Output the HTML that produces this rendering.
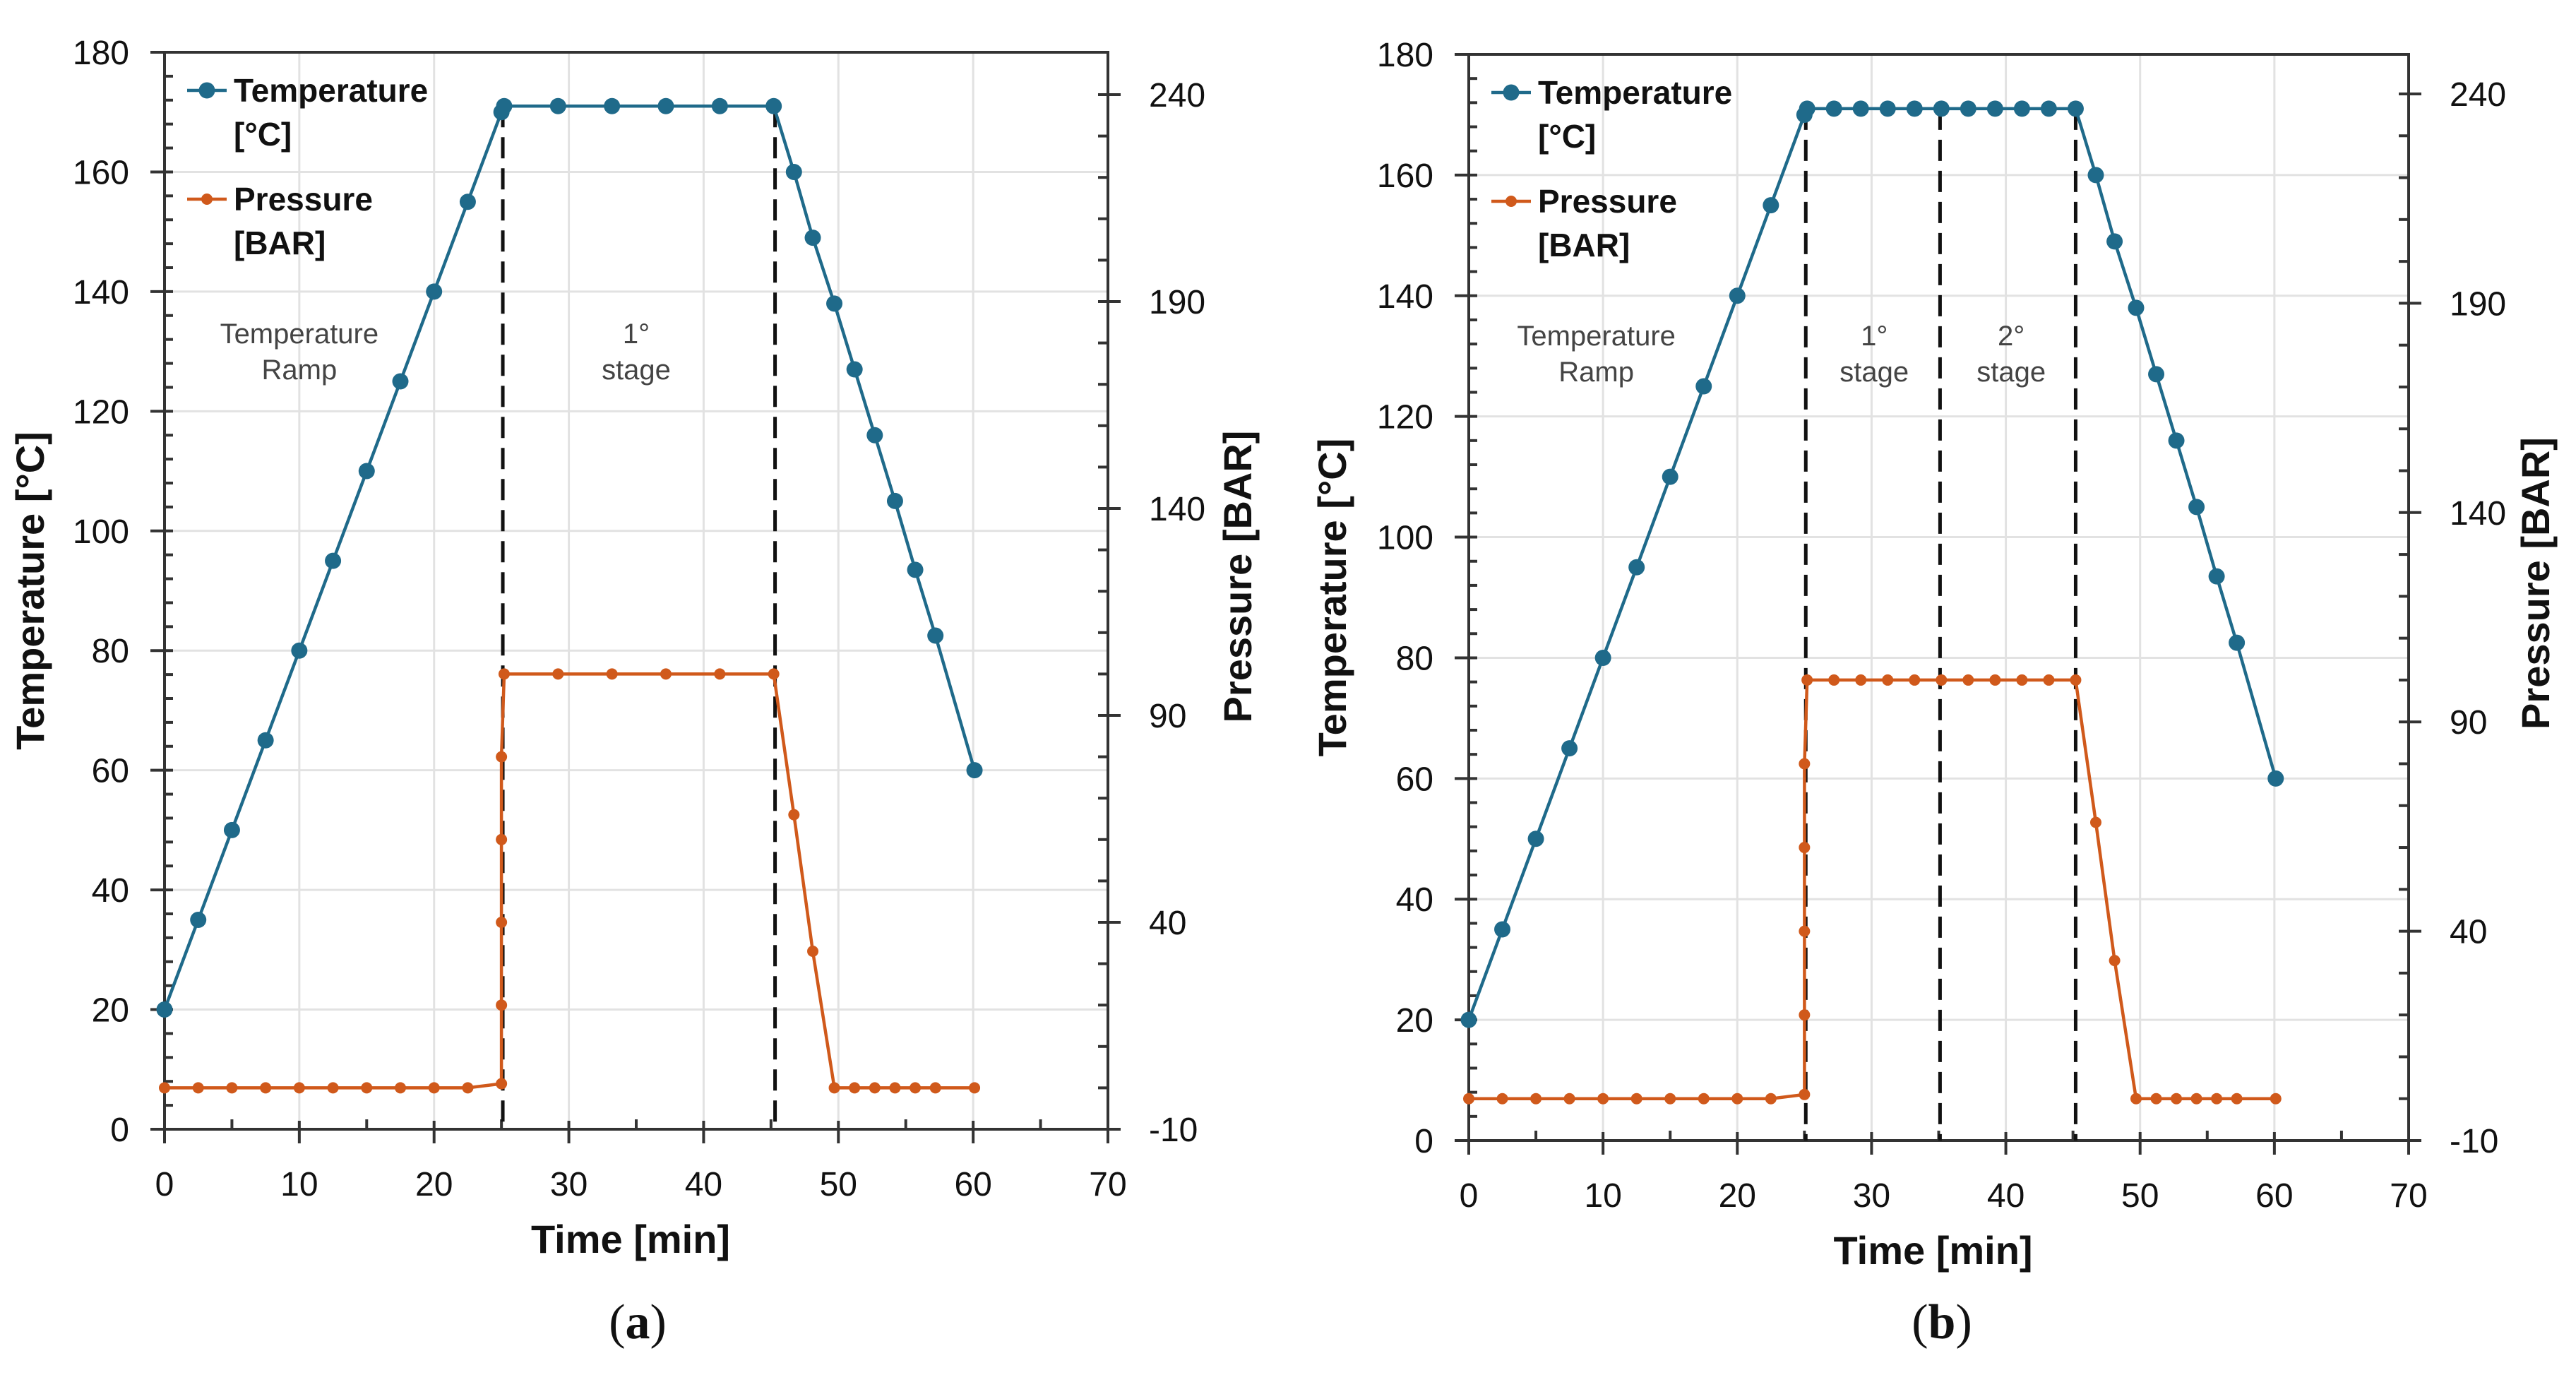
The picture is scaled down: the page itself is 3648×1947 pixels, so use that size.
<!DOCTYPE html>
<html><head><meta charset="utf-8">
<style>
html,body{margin:0;padding:0;background:#fff;}
svg{display:block;}
</style></head>
<body>
<svg id="fig" width="3648" height="1947" viewBox="0 0 3648 1947" xmlns="http://www.w3.org/2000/svg"></svg>
<script>
// ---- Chart (a) data ----
const tempXA = [0,2.5,5,7.5,10,12.5,15,17.5,20,22.5,25,25.2,29.2,33.2,37.2,41.2,45.2,46.7,48.1,49.7,51.2,52.7,54.2,55.7,57.2,60.1];
const tempYA = [20,35,50,65,80,95,110,125,140,155,170,171,171,171,171,171,171,160,149,138,127,116,105,93.5,82.5,60];
const presXA = [0,2.5,5,7.5,10,12.5,15,17.5,20,22.5,25,25,25,25,25,25.2,29.2,33.2,37.2,41.2,45.2,46.7,48.1,49.7,51.2,52.7,54.2,55.7,57.2,60.1];
const presYA = [0,0,0,0,0,0,0,0,0,0,1,20,40,60,80,100,100,100,100,100,100,66,33,0,0,0,0,0,0,0];
const stageLinesA = [25.1,45.3];
// ---- Chart (b) data ----
const tempXB = [0,2.5,5,7.5,10,12.5,15,17.5,20,22.5,25,25.2,27.2,29.2,31.2,33.2,35.2,37.2,39.2,41.2,43.2,45.2,46.7,48.1,49.7,51.2,52.7,54.2,55.7,57.2,60.1];
const tempYB = [20,35,50,65,80,95,110,125,140,155,170,171,171,171,171,171,171,171,171,171,171,171,160,149,138,127,116,105,93.5,82.5,60];
const presXB = [0,2.5,5,7.5,10,12.5,15,17.5,20,22.5,25,25,25,25,25,25.2,27.2,29.2,31.2,33.2,35.2,37.2,39.2,41.2,43.2,45.2,46.7,48.1,49.7,51.2,52.7,54.2,55.7,57.2,60.1];
const presYB = [0,0,0,0,0,0,0,0,0,0,1,20,40,60,80,100,100,100,100,100,100,100,100,100,100,100,66,33,0,0,0,0,0,0,0];
const stageLinesB = [25.1,35.1,45.2];
// ---- Tick labels ----
const xTicks = [0,10,20,30,40,50,60,70];
const yLeftTicks = [0,20,40,60,80,100,120,140,160,180];
const yRightTicks = [-10,40,90,140,190,240];

const NS = "http://www.w3.org/2000/svg";
const svg = document.getElementById('fig');
function mk(tag, attrs, parent, text){
  const e = document.createElementNS(NS, tag);
  for (const k in attrs) e.setAttribute(k, attrs[k]);
  if (text !== undefined) e.textContent = text;
  (parent||svg).appendChild(e);
  return e;
}
const TCOL="#1f6a8a", PCOL="#d0591b";
const FONT='"Liberation Sans", sans-serif';
const NARROW='"Liberation Sans Narrow", "Liberation Sans", sans-serif';

function chart(cfg){
  const g = mk('g',{});
  
  
  const L=cfg.left,R=cfg.right,B=cfg.bottom,T=cfg.top;
  const sx = v => L + (v-0)/(70-0)*(R-L);
  const sy = v => B - v/180*(B-T);
  const sp = v => B - (v+10)/250*(B-cfg.p240);
  xTicks.forEach(t=>{ if(t>0&&t<70){ const l=mk('line',{x1:sx(t),x2:sx(t),y1:T,y2:B,stroke:'#e2e2e2','stroke-width':3},g);   }});
  yLeftTicks.forEach(t=>{ if(t>0&&t<180){ const l=mk('line',{x1:L,x2:R,y1:sy(t),y2:sy(t),stroke:'#e2e2e2','stroke-width':3},g);   }});
  const fr=mk('path',{d:`M${L},${T}H${R}V${B}H${L}Z`,fill:'none',stroke:'#333','stroke-width':4},g);
   
  for(let v=0;v<=180;v+=4){ if(v%20===0) mk('line',{x1:L-20,x2:L+12,y1:sy(v),y2:sy(v),stroke:'#333','stroke-width':4},g); else mk('line',{x1:L,x2:L+12,y1:sy(v),y2:sy(v),stroke:'#333','stroke-width':4},g);}
  for(let v=-10;v<=240;v+=10){ if((v+10)%50===0) mk('line',{x1:R-14,x2:R+18,y1:sp(v),y2:sp(v),stroke:'#333','stroke-width':4},g); else mk('line',{x1:R-14,x2:R,y1:sp(v),y2:sp(v),stroke:'#333','stroke-width':4},g);}
  for(let v=0;v<=70;v+=5){ if(v%10===0) mk('line',{x1:sx(v),x2:sx(v),y1:B-12,y2:B+20,stroke:'#333','stroke-width':4},g); else mk('line',{x1:sx(v),x2:sx(v),y1:B-14,y2:B,stroke:'#333','stroke-width':4},g);}
  xTicks.forEach(t=>{ const e=mk('text',{x:sx(t),y:B+94,'font-family':FONT,'font-size':48,'text-anchor':'middle',fill:'#111'},g,String(t));   });
  yLeftTicks.forEach(t=>{ const e=mk('text',{x:L-50,y:sy(t)+17,'font-family':FONT,'font-size':48,'text-anchor':'end',fill:'#111'},g,String(t));   });
  yRightTicks.forEach(t=>{ const e=mk('text',{x:R+58,y:sp(t)+17,'font-family':FONT,'font-size':48,'text-anchor':'start',fill:'#111'},g,String(t));   });
  let e=mk('text',{x:(L+R)/2-8,y:B+175,'font-family':NARROW,'font-size':56,'font-weight':'bold','text-anchor':'middle',fill:'#111'},g,'Time [min]');
   
  e=mk('text',{x:0,y:0,'font-family':NARROW,'font-size':56,'font-weight':'bold','text-anchor':'middle',fill:'#111',transform:`translate(${cfg.ylx},${(T+B)/2}) rotate(-90)`},g,'Temperature [°C]');
   
  e=mk('text',{x:0,y:0,'font-family':NARROW,'font-size':56,'font-weight':'bold','text-anchor':'middle',fill:'#111',transform:`translate(${cfg.yrx},${(T+B)/2-20}) rotate(-90)`},g,'Pressure [BAR]');
   
  cfg.stages.forEach(s=>{ const l=mk('line',{x1:sx(s),x2:sx(s),y1:sy(171),y2:B,stroke:'#111','stroke-width':5,'stroke-dasharray':'30,14'},g);   });
  cfg.notes.forEach(n=>{ const t=mk('text',{x:sx(n.x),y:T+412,'font-family':FONT,'font-size':40,'text-anchor':'middle',fill:'#444'},g);
     
    mk('tspan',{x:sx(n.x),dy:0},t,n.l1); mk('tspan',{x:sx(n.x),dy:51},t,n.l2); });
  const tp=cfg.tx.map((x,i)=>`${i?'L':'M'}${sx(x).toFixed(1)},${sy(cfg.ty[i]).toFixed(1)}`).join('');
  const pp=cfg.px.map((x,i)=>`${i?'L':'M'}${sx(x).toFixed(1)},${sp(cfg.py[i]).toFixed(1)}`).join('');
  e=mk('path',{d:pp,fill:'none',stroke:PCOL,'stroke-width':4.5},g);  
  cfg.px.forEach((x,i)=>{ const c=mk('circle',{cx:sx(x),cy:sp(cfg.py[i]),r:8,fill:PCOL},g);   });
  e=mk('path',{d:tp,fill:'none',stroke:TCOL,'stroke-width':4.5},g);  
  cfg.tx.forEach((x,i)=>{ const c=mk('circle',{cx:sx(x),cy:sy(cfg.ty[i]),r:11.5,fill:TCOL},g);   });
  const lg=mk('g',{},g);  
  const lx=L+32, ly1=T+54, ly2=T+208;
  mk('line',{x1:lx,x2:lx+56,y1:ly1,y2:ly1,stroke:TCOL,'stroke-width':4.5},lg);
  mk('circle',{cx:lx+28,cy:ly1,r:11.5,fill:TCOL},lg);
  let t=mk('text',{x:lx+66,y:ly1+16,'font-family':NARROW,'font-size':46,'font-weight':'bold',fill:'#111'},lg);
   
  mk('tspan',{x:lx+66,dy:0},t,'Temperature'); mk('tspan',{x:lx+66,dy:62},t,'[°C]');
  mk('line',{x1:lx,x2:lx+56,y1:ly2,y2:ly2,stroke:PCOL,'stroke-width':4.5},lg);
  mk('circle',{cx:lx+28,cy:ly2,r:8,fill:PCOL},lg);
  t=mk('text',{x:lx+66,y:ly2+16,'font-family':NARROW,'font-size':46,'font-weight':'bold',fill:'#111'},lg);
   
  mk('tspan',{x:lx+66,dy:0},t,'Pressure'); mk('tspan',{x:lx+66,dy:62},t,'[BAR]');
  t=mk('text',{x:cfg.capx,y:1895,'font-family':'"Liberation Serif", serif','font-size':70,'text-anchor':'middle',fill:'#111'},g);
   
  mk('tspan',{},t,'('); mk('tspan',{'font-weight':'bold'},t,cfg.cap); mk('tspan',{},t,')');
}

chart({name:'chart-a',left:233,right:1569,top:74,bottom:1599,p240:134,ylx:62,yrx:1772,capx:903,cap:'a',
  tx:tempXA,ty:tempYA,px:presXA,py:presYA,stages:stageLinesA,
  notes:[{x:10,l1:'Temperature',l2:'Ramp'},{x:35,l1:'1°',l2:'stage'}]});
chart({name:'chart-b',left:2080,right:3411,top:77,bottom:1615,p240:133,ylx:1906,yrx:3610,capx:2750,cap:'b',
  tx:tempXB,ty:tempYB,px:presXB,py:presYB,stages:stageLinesB,
  notes:[{x:9.5,l1:'Temperature',l2:'Ramp'},{x:30.2,l1:'1°',l2:'stage'},{x:40.4,l1:'2°',l2:'stage'}]});
</script>
</body></html>
